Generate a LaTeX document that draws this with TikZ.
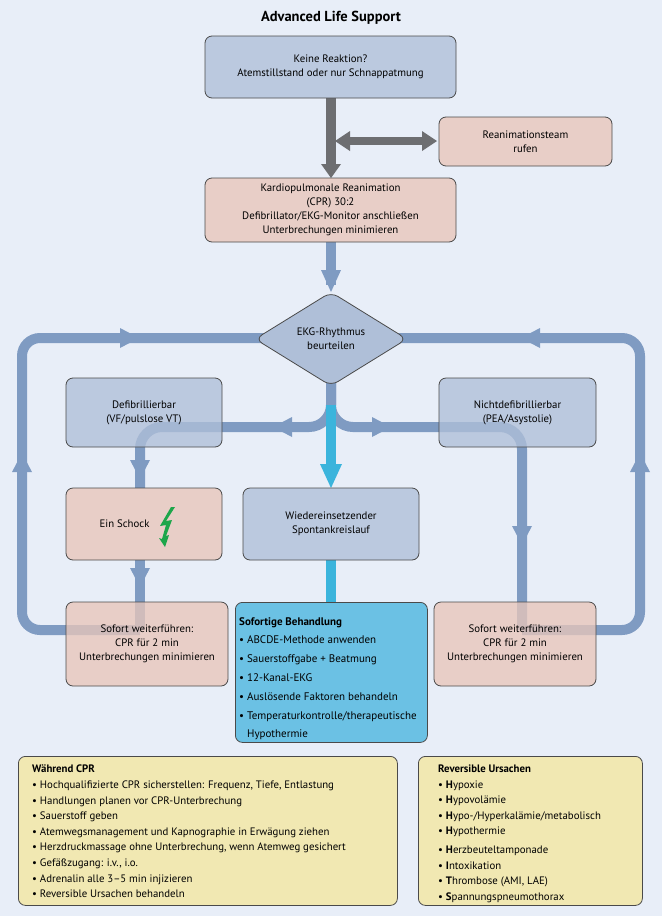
\documentclass[tikz,border=0pt]{standalone}
\usepackage{fontspec}
\setmainfont{PT Sans}
\usetikzlibrary{shapes.geometric,calc}
\definecolor{bg}{HTML}{E8EEF8}
\definecolor{bluebox}{HTML}{AFBFD8}
\definecolor{salmon}{HTML}{E8C6BA}
\definecolor{flow}{HTML}{7F9BC2}
\definecolor{grayflow}{HTML}{6D6E71}
\definecolor{cyanflow}{HTML}{3BB4DC}
\definecolor{cyanbox}{HTML}{6BC1E4}
\definecolor{yellowbox}{HTML}{F1E8B2}
\definecolor{border}{HTML}{4A4A4A}
\definecolor{bolt}{HTML}{1DA64A}
\begin{document}
\begin{tikzpicture}[x=1pt,y=-1pt,
  font=\fontsize{10.8}{14}\selectfont,
  box/.style={draw=border,line width=0.8pt,rounded corners=7pt,align=center,inner sep=0pt,fill opacity=0.78,text opacity=1},
  bb/.style={box,fill=bluebox},
  sb/.style={box,fill=salmon},
  fl/.style={draw=flow,line width=10pt,rounded corners=18pt},
  ad/.pic={\fill[pic actions](-10,-10)--(10,-10)--(0,9)--cycle;},
  au/.pic={\fill[pic actions](-10,10)--(10,10)--(0,-9)--cycle;},
  al/.pic={\fill[pic actions](10,-10)--(10,10)--(-9,0)--cycle;},
  ar/.pic={\fill[pic actions](-10,-10)--(-10,10)--(9,0)--cycle;},
]
\fill[bg] (0,0) rectangle (662,916);
\useasboundingbox (0,0) rectangle (662,916);
\node[font=\fontsize{14.5}{16}\selectfont\bfseries] (title) at (331,18) {Advanced Life Support};

% coordinates
\coordinate (lt) at (22,338);
\coordinate (lb) at (22,630);
\coordinate (rt) at (640,338);
\coordinate (rb) at (640,630);
\coordinate (hr) at (522,427);
\coordinate (lbx) at (140,630);
\coordinate (rbx) at (522,630);

% flow lines (drawn first, boxes on top are translucent)
\draw[grayflow,line width=10pt] (331,98) -- (331,168);
\fill[grayflow] (321,164)--(341,164)--(331,178)--cycle;
\draw[grayflow,line width=8pt] (348,141) -- (424,141);
\fill[grayflow] (350,131)--(350,151)--(335,141)--cycle;
\fill[grayflow] (422,131)--(422,151)--(437,141)--cycle;

\draw[flow,line width=10pt] (331,242) -- (331,285);
\fill[flow] (321,270)--(341,270)--(331,292)--cycle;

\draw[fl] (lbx) -- (lb) -- (lt) -- (300,338);
\draw[fl] (rbx) -- (rb) -- (rt) -- (362,338);
\path (130,338) pic[flow]{ar};
\path (530,338) pic[flow]{al};
\path (22,462) pic[flow]{au};
\path (640,462) pic[flow]{au};

\draw[fl,rounded corners=22pt] (331,380) -- (331,427) -- (140,427) -- (140,488);
\draw[fl,rounded corners=22pt] (331,380) -- (331,427) -- (522,427) -- (rbx);
\draw[fl] (140,560) -- (lbx);
\path (282,427) pic[flow]{al};
\path (382,427) pic[flow]{ar};
\path (140,470) pic[flow]{ad};
\path (140,578) pic[flow]{ad};
\path (522,536) pic[flow]{ad};

\draw[cyanflow,line width=10pt] (331,405) -- (331,470);
\fill[cyanflow] (320,464)--(342,464)--(331,488)--cycle;
\draw[cyanflow,line width=10pt] (331,560) -- (331,602);

% boxes
\node[bb,minimum width=251pt,minimum height=62pt] (b1) at (330.5,67) {Keine Reaktion?\\Atemstillstand oder nur Schnappatmung};
\node[sb,minimum width=173pt,minimum height=49pt] (team) at (525.5,141.5) {Reanimationsteam\\rufen};
\node[sb,minimum width=251pt,minimum height=64pt] (cpr) at (330.5,210) {Kardiopulmonale Reanimation\\(CPR) 30:2\\Defibrillator/EKG-Monitor anschließen\\Unterbrechungen minimieren};
\node[diamond,draw=border,line width=0.8pt,fill=bluebox,rounded corners=8pt,minimum width=152pt,minimum height=94pt,inner sep=0pt,align=center,aspect=1.6] (dia) at (331,339) {EKG-Rhythmus\\beurteilen};
\node[bb,minimum width=156pt,minimum height=69pt] (defi) at (144,412.5) {Defibrillierbar\\(VF/pulslose VT)};
\node[bb,minimum width=157pt,minimum height=69pt] (ndefi) at (517.5,412.5) {Nichtdefibrillierbar\\(PEA/Asystolie)};
\node[sb,minimum width=156pt,minimum height=72pt] (schock) at (144,524) {};
\node[anchor=east] (schocktxt) at (153,524) {Ein Schock};
\fill[bolt] (171,507)--(160,526)--(166,525)--(162,539)--(159,538)--(165,547)--(169,535)--(166,536)--(172,520)--(166,521)--(175,507)--cycle;
\node[bb,minimum width=176pt,minimum height=72pt] (rosc) at (331,524) {Wiedereinsetzender\\Spontankreislauf};
\node[sb,minimum width=162pt,minimum height=84pt] (sofL) at (147,644) {Sofort weiterführen:\\CPR für 2 min\\Unterbrechungen minimieren};
\node[sb,minimum width=162pt,minimum height=84pt] (sofR) at (515,644) {Sofort weiterführen:\\CPR für 2 min\\Unterbrechungen minimieren};
\node[box,fill=cyanbox,fill opacity=1,minimum width=192pt,minimum height=140pt,anchor=north west] (sb) at (235,602) {};
\node[anchor=north west,align=left,inner sep=0pt,font=\fontsize{11}{18.8}\selectfont] (sbt) at (239,617) {\textbf{Sofortige Behandlung}\\
• ABCDE-Methode anwenden\\• Sauerstoffgabe + Beatmung\\• 12-Kanal-EKG\\• Auslösende Faktoren behandeln\\• Temperaturkontrolle/therapeutische\\\phantom{• }Hypothermie};

\node[box,fill=yellowbox,fill opacity=1,minimum width=379pt,minimum height=149pt,anchor=north west] (wcpr) at (18,756) {};
\node[anchor=north west,align=left,inner sep=0pt,font=\fontsize{10.8}{15.6}\selectfont] (wcprt) at (32,765) {\textbf{Während CPR}\\
• Hochqualifizierte CPR sicherstellen: Frequenz, Tiefe, Entlastung\\
• Handlungen planen vor CPR-Unterbrechung\\
• Sauerstoff geben\\
• Atemwegsmanagement und Kapnographie in Erwägung ziehen\\
• Herzdruckmassage ohne Unterbrechung, wenn Atemweg gesichert\\
• Gefäßzugang: i.v., i.o.\\
• Adrenalin alle 3–5 min injizieren\\
• Reversible Ursachen behandeln};
\node[box,fill=yellowbox,fill opacity=1,minimum width=224pt,minimum height=149pt,anchor=north west] (rev) at (418,756) {};
\node[anchor=north west,align=left,inner sep=0pt,font=\fontsize{10.8}{15.4}\selectfont] (revt) at (438,765) {\textbf{Reversible Ursachen}\\
• \textbf{H}ypoxie\\
• \textbf{H}ypovolämie\\
• \textbf{H}ypo-/Hyperkalämie/metabolisch\\
• \textbf{H}ypothermie\\[4pt]
• \textbf{H}erzbeuteltamponade\\
• \textbf{I}ntoxikation\\
• \textbf{T}hrombose (AMI, LAE)\\
• \textbf{S}pannungspneumothorax};
\end{tikzpicture}
\end{document}
